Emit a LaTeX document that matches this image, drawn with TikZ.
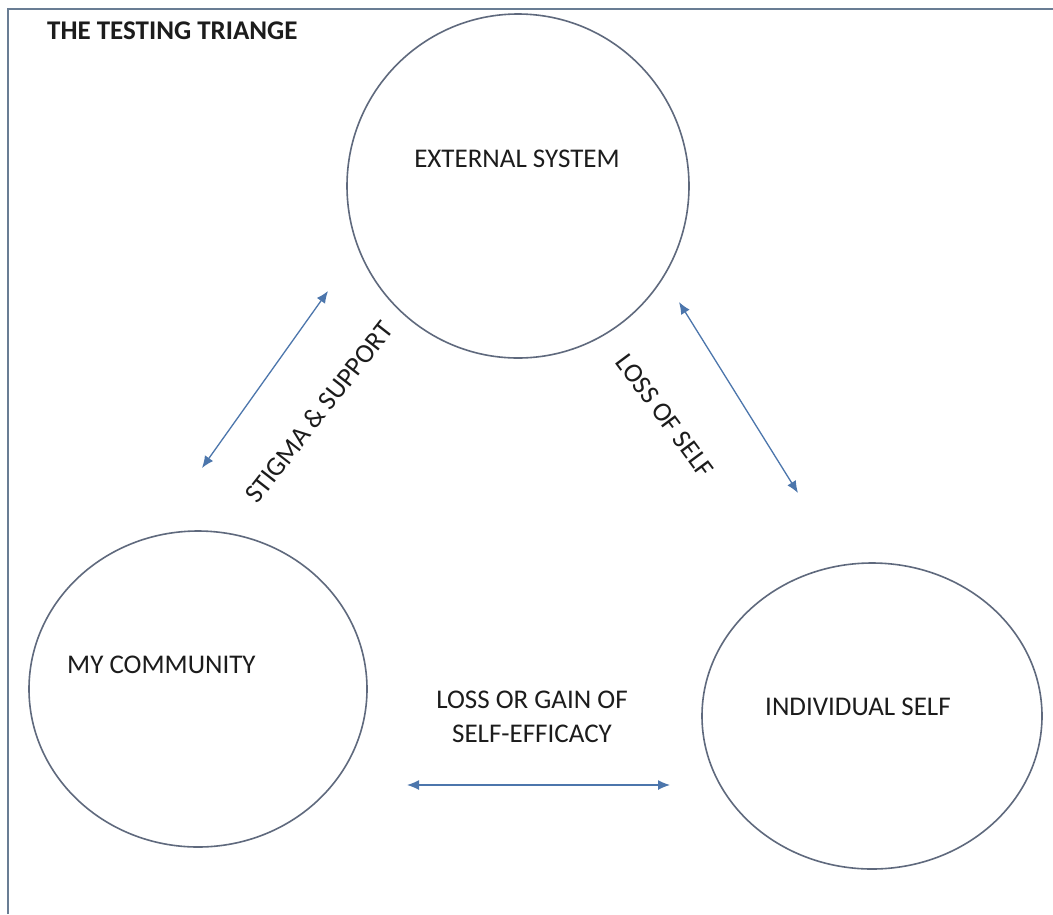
\documentclass[tikz,border=0pt]{standalone}
\usepackage{fontspec}
\setmainfont{Carlito}
\usetikzlibrary{shapes.geometric,arrows.meta}
\definecolor{frame}{RGB}{105,125,148}
\definecolor{ring}{RGB}{95,105,125}
\definecolor{arrowblue}{RGB}{76,118,172}
\definecolor{ink}{RGB}{28,28,28}
\tikzset{
  bubble/.style={draw=ring, line width=1.6pt, ellipse, inner sep=0pt},
  lbl/.style={font=\fontsize{27}{33}\selectfont, text=ink, inner sep=0pt},
  title/.style={font=\fontsize{27}{33}\selectfont\bfseries, text=ink, inner sep=0pt},
  link/.style={draw=arrowblue, line width=1.3pt, {Latex[length=12pt,width=10pt]}-{Latex[length=12pt,width=10pt]}}
}
\begin{document}
\begin{tikzpicture}[x=1pt,y=-1pt]
\useasboundingbox (0,0) rectangle (1053,914);
\fill[white] (0,0) rectangle (1053,914);
\draw[frame, line width=1.6pt] (8,914) -- (8,9) -- (1053,9);
% circles
\node[bubble, minimum width=342pt, minimum height=344pt] (ext) at (518,186) {};
\node[bubble, minimum width=338pt, minimum height=316pt] (com) at (198,689) {};
\node[bubble, minimum width=340pt, minimum height=306pt] (ind) at (872,716) {};
% texts
\node[title, anchor=base west] (ttl) at (47,39) {THE TESTING TRIANGE};
\node[lbl, anchor=base] (extt) at (517,167) {EXTERNAL SYSTEM};
\node[lbl, anchor=base west] (comt) at (67,673) {MY COMMUNITY};
\node[lbl, anchor=base west] (indt) at (765,715) {INDIVIDUAL SELF};
\node[lbl, anchor=base] (eff1) at (532,708) {LOSS OR GAIN OF};
\node[lbl, anchor=base] (eff2) at (532,742) {SELF-EFFICACY};
\node[lbl, rotate=52] (stig) at (319,412) {STIGMA \& SUPPORT};
\node[lbl, rotate=-53.5] (loss) at (665,416) {LOSS OF SELF};
% arrow ends
\coordinate (a1) at (328,291);
\coordinate (a2) at (202,468);
\coordinate (b1) at (679,302);
\coordinate (b2) at (798,493);
\coordinate (c1) at (407,785);
\coordinate (c2) at (670,785);
\draw[link] (a1) -- (a2);
\draw[link] (b1) -- (b2);
\draw[link] (c1) -- (c2);
\end{tikzpicture}
\end{document}
